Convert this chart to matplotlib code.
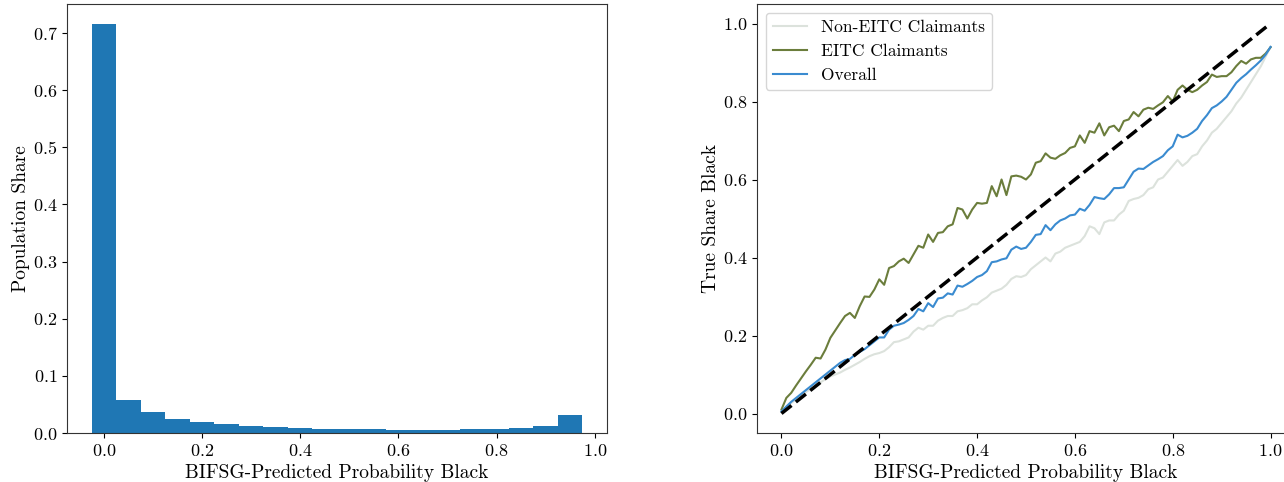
import numpy as np
import matplotlib
matplotlib.use("Agg")
import matplotlib.pyplot as plt

plt.rcParams['font.family'] = 'serif'
plt.rcParams['font.serif'] = ['cmr10']
plt.rcParams['mathtext.fontset'] = 'cm'
plt.rcParams['axes.formatter.use_mathtext'] = True
plt.rcParams['axes.unicode_minus'] = False
plt.rcParams['axes.edgecolor'] = '#333333'

# Left panel: histogram
bin_centers = [0.00, 0.05, 0.10, 0.15, 0.20, 0.25, 0.30, 0.35, 0.40, 0.45,
               0.50, 0.55, 0.60, 0.65, 0.70, 0.75, 0.80, 0.85, 0.90, 0.95]
pop_share = [0.715, 0.058, 0.036, 0.0245, 0.0186, 0.015, 0.0128, 0.0105, 0.0087, 0.0072,
             0.0072, 0.0072, 0.0055, 0.0055, 0.0055, 0.0068, 0.0070, 0.0087, 0.0128, 0.031]

# Right panel: calibration curves (x = predicted probability, step 0.01)
xgrid = [i / 100 for i in range(101)]
eitc = [0.010, 0.040, 0.053, 0.072, 0.090, 0.108, 0.125, 0.143, 0.141, 0.164,
        0.194, 0.213, 0.232, 0.250, 0.258, 0.245, 0.275, 0.300, 0.299, 0.318,
        0.344, 0.330, 0.373, 0.378, 0.390, 0.397, 0.386, 0.408, 0.430, 0.425,
        0.459, 0.440, 0.463, 0.465, 0.480, 0.485, 0.527, 0.523, 0.500, 0.523,
        0.540, 0.538, 0.540, 0.583, 0.557, 0.600, 0.560, 0.608, 0.610, 0.607,
        0.600, 0.613, 0.643, 0.647, 0.667, 0.656, 0.653, 0.662, 0.668, 0.681,
        0.685, 0.713, 0.694, 0.724, 0.720, 0.744, 0.713, 0.734, 0.738, 0.724,
        0.750, 0.754, 0.773, 0.762, 0.779, 0.784, 0.781, 0.790, 0.798, 0.814,
        0.800, 0.830, 0.841, 0.830, 0.824, 0.830, 0.841, 0.850, 0.869, 0.863,
        0.865, 0.865, 0.875, 0.891, 0.904, 0.897, 0.908, 0.912, 0.912, 0.923,
        0.939]
overall = [0.005, 0.018, 0.030, 0.040, 0.050, 0.060, 0.070, 0.080, 0.090, 0.100,
           0.110, 0.120, 0.130, 0.137, 0.140, 0.150, 0.158, 0.165, 0.175, 0.185,
           0.195, 0.195, 0.215, 0.225, 0.228, 0.232, 0.240, 0.250, 0.268, 0.262,
           0.283, 0.273, 0.295, 0.297, 0.308, 0.305, 0.328, 0.325, 0.332, 0.340,
           0.350, 0.355, 0.365, 0.388, 0.390, 0.395, 0.398, 0.420, 0.428, 0.422,
           0.425, 0.440, 0.458, 0.460, 0.483, 0.470, 0.485, 0.495, 0.500, 0.508,
           0.510, 0.525, 0.520, 0.535, 0.555, 0.552, 0.550, 0.562, 0.578, 0.578,
           0.580, 0.600, 0.620, 0.628, 0.627, 0.636, 0.645, 0.652, 0.660, 0.675,
           0.685, 0.715, 0.708, 0.712, 0.720, 0.730, 0.750, 0.765, 0.783, 0.790,
           0.800, 0.812, 0.830, 0.848, 0.860, 0.870, 0.882, 0.893, 0.905, 0.920,
           0.940]
non_eitc = [0.005, 0.016, 0.027, 0.036, 0.046, 0.055, 0.063, 0.071, 0.080, 0.088,
            0.095, 0.100, 0.105, 0.112, 0.118, 0.125, 0.132, 0.140, 0.147, 0.152,
            0.155, 0.160, 0.170, 0.183, 0.185, 0.190, 0.195, 0.210, 0.220, 0.215,
            0.225, 0.225, 0.238, 0.245, 0.250, 0.250, 0.262, 0.265, 0.270, 0.280,
            0.280, 0.290, 0.298, 0.310, 0.315, 0.320, 0.330, 0.345, 0.352, 0.350,
            0.355, 0.370, 0.380, 0.390, 0.400, 0.390, 0.410, 0.415, 0.425, 0.430,
            0.435, 0.440, 0.455, 0.480, 0.475, 0.460, 0.490, 0.495, 0.495, 0.510,
            0.520, 0.545, 0.550, 0.553, 0.560, 0.575, 0.580, 0.600, 0.605, 0.620,
            0.635, 0.650, 0.635, 0.645, 0.660, 0.665, 0.685, 0.700, 0.720, 0.730,
            0.745, 0.760, 0.775, 0.795, 0.810, 0.830, 0.850, 0.870, 0.890, 0.915,
            0.940]

W, H = 1284, 482
fig = plt.figure(figsize=(W / 100, H / 100), dpi=100)
ax1 = fig.add_axes([67 / W, 1 - 433 / H, (607 - 67) / W, (433 - 4) / H])
ax2 = fig.add_axes([757 / W, 1 - 433 / H, (1295 - 757) / W, (433 - 4) / H])

ax1.bar(bin_centers, pop_share, width=0.05, color='#1f77b4')
ax1.set_xlabel('BIFSG-Predicted Probability Black', fontsize=14)
ax1.set_ylabel('Population Share', fontsize=14, labelpad=2)
ax1.tick_params(labelsize=13)
ax1.set_xticks([0.0, 0.2, 0.4, 0.6, 0.8, 1.0])

ax2.plot(xgrid, non_eitc, color='#dce2dc', lw=1.5, label='Non-EITC Claimants')
ax2.plot(xgrid, eitc, color='#6b7d3c', lw=1.5, label='EITC Claimants')
ax2.plot(xgrid, overall, color='#3a8bd0', lw=1.5, label='Overall')
ax2.plot([0, 1], [0, 1], color='black', ls='--', lw=2.5)
ax2.set_xlabel('BIFSG-Predicted Probability Black', fontsize=14)
ax2.set_ylabel('True Share Black', fontsize=14, labelpad=2)
ax2.tick_params(labelsize=13)
ax2.set_xticks([0.0, 0.2, 0.4, 0.6, 0.8, 1.0])
ax2.set_yticks([0.0, 0.2, 0.4, 0.6, 0.8, 1.0])
ax2.legend(loc='upper left', fontsize=12.5)

fig.savefig('out.png', dpi=100)
